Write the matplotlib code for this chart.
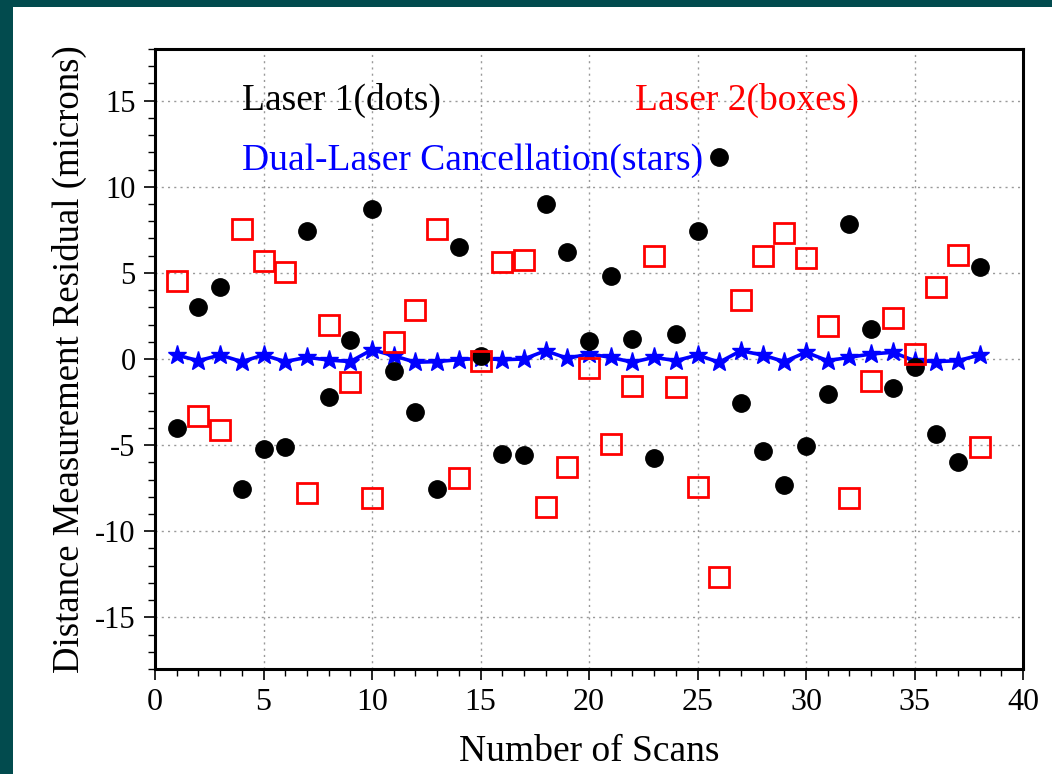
import numpy as np
import matplotlib
matplotlib.use("Agg")
import matplotlib.pyplot as plt
from matplotlib.patches import Rectangle
from matplotlib.ticker import MultipleLocator

scans = list(range(1, 39))

laser1 = [-4.0, 3.04, 4.16, -7.55, -5.24, -5.11, 7.43, -2.19, 1.12, 8.71,
          -0.68, -3.1, -7.55, 6.49, 0.19, -5.52, -5.56, 9.0, 6.2, 1.06,
          4.84, 1.16, -5.77, 1.45, 7.45, 11.75, -2.57, -5.32, -7.32, -5.07,
          -2.01, 7.84, 1.74, -1.70, -0.45, -4.36, -6.0, 5.36]

laser2 = [4.55, -3.29, -4.12, 7.55, 5.71, 5.03, -7.78, 1.99, -1.32, -8.07,
          0.97, 2.86, 7.55, -6.93, -0.1, 5.65, 5.77, -8.58, -6.25, -0.54,
          -4.94, -1.55, 5.96, -1.65, -7.45, -12.68, 3.44, 6.0, 7.3, 5.87,
          1.94, -8.07, -1.3, 2.36, 0.29, 4.16, 6.06, -5.13]

dual = [0.23, -0.1, 0.23, -0.15, 0.23, -0.15, 0.1, -0.06, -0.15, 0.54,
        0.19, -0.19, -0.15, -0.04, 0.04, -0.04, 0.0, 0.48, 0.04, 0.29,
        0.1, -0.19, 0.1, -0.1, 0.23, -0.19, 0.48, 0.23, -0.15, 0.39,
        -0.1, 0.1, 0.29, 0.39, -0.1, -0.15, -0.1, 0.23]

plt.rcParams['font.family'] = ['Liberation Serif', 'DejaVu Serif']
plt.rcParams['axes.unicode_minus'] = False

fig = plt.figure(figsize=(10.52, 7.74), dpi=100)
fig.patch.set_facecolor('#024b4e')
# white panel, teal strip only on left and top
fig.patches.append(Rectangle((13 / 1052, 0), 1, 1 - 7 / 774, transform=fig.transFigure,
                             facecolor='white', edgecolor='none', zorder=-1))

ax = fig.add_axes([155 / 1052, 1 - 669 / 774, 868 / 1052, 620 / 774])
ax.set_facecolor('white')

ax.plot(scans, dual, color='#0000ff', lw=2.6, marker='*', ms=14, zorder=3)
ax.plot(scans, laser1, ls='none', marker='o', color='black', ms=12.5, zorder=4)
ax.plot(scans, laser2, ls='none', marker='s', mfc='none', mec='#ff0000', mew=2, ms=14, zorder=5)

ax.set_xlim(0, 40)
ax.set_ylim(-18, 18)
ax.xaxis.set_major_locator(MultipleLocator(5))
ax.xaxis.set_minor_locator(MultipleLocator(1))
ax.yaxis.set_major_locator(MultipleLocator(5))
ax.yaxis.set_minor_locator(MultipleLocator(1))
ax.tick_params(which='major', direction='out', length=8, width=1.2, labelsize=22, pad=6)
ax.tick_params(which='minor', direction='out', length=5, width=1)
ax.tick_params(axis='x', labelsize=23)
ax.grid(True, which='major', ls=(0, (1.5, 3)), color='#999999', lw=1)
ax.set_axisbelow(True)
for s in ax.spines.values():
    s.set_linewidth(2.2)

ax.text(4.0, 15, 'Laser 1(dots)', fontsize=27, color='black', va='center')
ax.text(22.1, 15, 'Laser 2(boxes)', fontsize=27, color='#ff0000', va='center')
ax.text(4.0, 11.5, 'Dual-Laser Cancellation(stars)', fontsize=27, color='#0000ff', va='center')

ax.set_xlabel('Number of Scans', fontsize=27, labelpad=12)
ax.set_ylabel('Distance Measurement Residual (microns)', fontsize=26.5, labelpad=6)

fig.savefig('out.png', dpi=100, facecolor=fig.get_facecolor())
